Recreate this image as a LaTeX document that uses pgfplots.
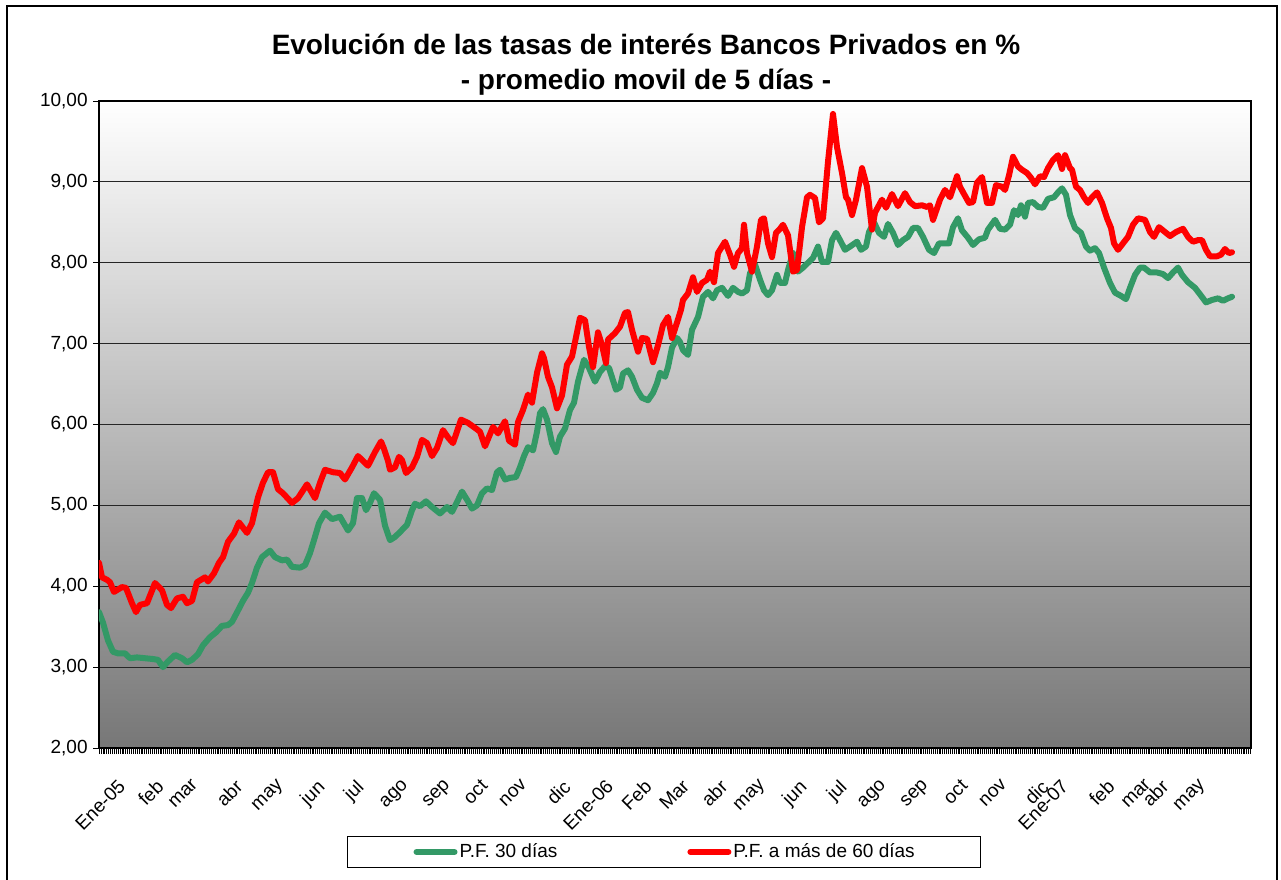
\documentclass[border=0pt]{standalone}
\usepackage{fontspec}
\setmainfont{Liberation Sans}
\usepackage{pgfplots}
\pgfplotsset{compat=1.18}
\definecolor{pfgreen}{RGB}{51,153,102}
\definecolor{pfred}{RGB}{255,0,0}
\definecolor{bgbot}{RGB}{119,119,119}
\newcommand{\tickfont}{\fontsize{9.5bp}{11bp}\selectfont}
\begin{document}
\begin{tikzpicture}
\useasboundingbox (0bp,0bp) rectangle (640.5bp,440bp);
\draw[line width=1bp] (3.5bp,-5bp) -- (3.5bp,437bp) -- (638.5bp,437bp) -- (638.5bp,-5bp);
\begin{axis}[
  at={(49.5bp,66bp)}, anchor=south west,
  scale only axis, width=576bp, height=323.5bp,
  xmin=99, xmax=1251, ymin=2, ymax=10,
  axis background/.style={top color=white, bottom color=bgbot},
  axis line style={black, line width=0.7bp},
  ymajorgrids, major grid style={black!85, line width=0.6bp},
  tick align=outside, xtick pos=bottom, ytick pos=left,
  major tick length=3bp, minor tick length=3bp,
  tick style={black, line width=0.4bp},
  major x tick style={draw=none},
  minor x tick style={black, line width=0.25bp},
  ytick={2,3,...,10},
  yticklabels={{2,00},{3,00},{4,00},{5,00},{6,00},{7,00},{8,00},{9,00},{10,00}},
  yticklabel style={font=\tickfont, inner sep=0pt, xshift=-2.5bp},
  xtick={124,162,198,241,283,323,362,408,450,487,527,569,612,650,688,726,765,805,845,886,928,967,1007,1047,1067,1113,1151,1167,1205},
  xticklabels={Ene-05,feb,mar,abr,may,jun,jul,ago,sep,oct,nov,dic,Ene-06,Feb,Mar,abr,may,jun,jul,ago,sep,oct,nov,dic,Ene-07,feb,mar,abr,may},
  minor xtick={99,100.9,...,1251},
  xticklabel style={xshift=-3.5bp, yshift=-12bp, font=\tickfont, rotate=45, anchor=north east, inner sep=0pt},
  /pgf/number format/assume math mode=true,
  legend columns=2,
  legend style={at={(axis description cs:0.2153,-0.136)}, anchor=north west,
    draw=black, line width=0.5bp, fill=white, font=\tickfont,
    inner xsep=33bp, inner ysep=3.5bp,
    nodes={inner sep=0pt},
    /tikz/every odd column/.append style={column sep=1bp},
    /tikz/every even column/.append style={column sep=65bp}},
  legend image code/.code={\draw[#1, line width=3bp, line cap=round] (0bp,0bp) -- (19bp,0bp);},
]
\addplot[pfgreen, line width=3bp, line join=round, line cap=round, mark=none] table {
x y
99 3.68
103 3.55
108 3.33
113 3.19
118 3.17
125 3.17
130 3.11
137 3.12
145 3.11
153 3.10
158 3.09
163 3.00
168 3.07
175 3.15
182 3.11
187 3.06
192 3.09
198 3.16
203 3.27
210 3.37
216 3.43
222 3.51
228 3.52
232 3.56
238 3.70
243 3.82
248 3.92
252 4.04
257 4.23
262 4.36
267 4.41
270 4.44
275 4.36
282 4.32
287 4.33
292 4.24
300 4.23
305 4.26
310 4.41
314 4.57
319 4.78
325 4.91
332 4.83
340 4.86
348 4.69
353 4.78
357 5.09
362 5.09
366 4.94
370 5.03
374 5.15
380 5.07
385 4.75
390 4.57
395 4.61
400 4.67
407 4.76
412 4.94
415 5.02
420 4.99
426 5.05
432 4.98
440 4.90
447 4.98
452 4.92
457 5.04
462 5.17
468 5.05
472 4.96
477 5.00
482 5.15
487 5.21
492 5.19
497 5.41
500 5.44
505 5.32
510 5.34
516 5.35
520 5.47
524 5.61
528 5.72
533 5.68
537 5.91
540 6.14
543 6.19
547 6.06
552 5.77
556 5.66
560 5.85
565 5.95
570 6.18
574 6.27
578 6.53
584 6.80
589 6.70
595 6.53
600 6.65
605 6.72
609 6.70
616 6.43
620 6.46
623 6.63
628 6.67
632 6.59
637 6.43
642 6.33
648 6.30
653 6.39
657 6.51
660 6.64
665 6.59
668 6.71
672 6.95
677 7.07
680 7.02
683 6.92
688 6.86
692 7.17
698 7.33
703 7.58
708 7.64
713 7.56
717 7.66
722 7.69
728 7.59
733 7.69
738 7.64
742 7.62
747 7.66
750 7.87
755 7.98
760 7.79
764 7.66
768 7.60
772 7.66
777 7.85
780 7.75
785 7.75
788 7.91
793 8.12
798 7.89
803 7.94
808 8.00
813 8.06
818 8.20
822 8.01
828 8.01
832 8.28
836 8.37
840 8.28
845 8.16
850 8.20
857 8.26
861 8.16
866 8.20
869 8.38
874 8.50
879 8.37
884 8.32
888 8.48
893 8.37
898 8.22
903 8.28
908 8.32
913 8.43
918 8.43
923 8.32
929 8.16
934 8.12
939 8.24
945 8.24
949 8.24
953 8.44
958 8.55
962 8.40
968 8.31
973 8.22
979 8.29
985 8.31
988 8.41
995 8.53
1000 8.42
1005 8.41
1010 8.47
1014 8.65
1018 8.59
1021 8.71
1025 8.57
1028 8.74
1033 8.75
1038 8.69
1043 8.68
1048 8.79
1054 8.81
1058 8.87
1062 8.92
1066 8.84
1070 8.59
1075 8.43
1081 8.37
1086 8.20
1090 8.15
1095 8.18
1099 8.12
1104 7.94
1110 7.75
1115 7.63
1121 7.59
1126 7.55
1130 7.69
1135 7.85
1140 7.94
1144 7.94
1150 7.88
1157 7.88
1163 7.86
1168 7.81
1173 7.88
1178 7.94
1182 7.85
1188 7.76
1195 7.69
1200 7.61
1206 7.51
1212 7.54
1218 7.56
1223 7.53
1228 7.56
1232 7.58
};
\addlegendentry{P.F. 30 días}
\addplot[pfred, line width=3bp, line join=round, line cap=round, mark=none] table {
x y
99 4.29
102 4.11
107 4.08
110 4.05
114 3.93
122 3.99
126 3.98
132 3.79
136 3.68
140 3.77
147 3.79
155 4.04
162 3.95
167 3.77
171 3.73
177 3.85
183 3.87
187 3.79
192 3.82
197 4.05
205 4.11
208 4.06
214 4.16
219 4.29
223 4.36
228 4.55
234 4.65
239 4.79
247 4.66
252 4.78
258 5.10
263 5.28
268 5.41
273 5.41
278 5.20
283 5.15
292 5.03
298 5.09
307 5.26
315 5.09
320 5.28
325 5.44
333 5.41
340 5.40
345 5.32
352 5.47
358 5.61
363 5.55
368 5.49
375 5.66
381 5.79
384 5.70
388 5.55
390 5.44
395 5.47
399 5.60
402 5.56
406 5.40
412 5.47
417 5.60
422 5.81
427 5.77
432 5.61
437 5.71
443 5.93
448 5.84
453 5.77
461 6.06
468 6.02
477 5.94
480 5.91
485 5.73
493 5.97
498 5.89
505 6.04
509 5.80
515 5.75
518 6.03
523 6.18
528 6.37
532 6.27
537 6.64
542 6.88
544 6.82
548 6.59
552 6.46
557 6.20
562 6.36
567 6.74
572 6.84
580 7.32
585 7.29
589 6.96
593 6.71
598 7.14
602 6.98
606 6.76
608 7.05
615 7.13
620 7.21
625 7.38
628 7.39
632 7.17
638 6.90
642 7.07
647 7.06
653 6.77
658 6.98
663 7.23
668 7.33
672 7.07
677 7.26
681 7.42
683 7.54
688 7.62
693 7.82
697 7.64
702 7.75
707 7.79
710 7.89
714 7.76
718 8.12
725 8.26
730 8.10
734 7.95
738 8.12
742 8.18
744 8.47
747 8.12
752 7.89
757 8.20
761 8.53
764 8.55
768 8.24
772 8.07
776 8.37
780 8.42
783 8.47
788 8.34
793 7.89
797 7.91
802 8.44
807 8.81
810 8.84
815 8.80
819 8.50
823 8.55
828 9.25
833 9.84
837 9.43
842 9.11
846 8.81
848 8.78
852 8.59
856 8.78
862 9.17
867 8.94
872 8.41
875 8.62
882 8.78
886 8.68
892 8.85
898 8.70
905 8.86
910 8.75
915 8.70
922 8.71
927 8.69
930 8.71
933 8.53
940 8.78
945 8.90
950 8.81
957 9.07
960 8.94
964 8.85
969 8.74
973 8.75
977 8.99
982 9.06
987 8.74
992 8.74
996 8.96
1002 8.94
1005 8.90
1009 9.08
1013 9.31
1018 9.19
1022 9.15
1027 9.11
1031 9.05
1035 8.97
1040 9.07
1044 9.06
1048 9.17
1053 9.27
1058 9.33
1062 9.16
1065 9.33
1070 9.17
1072 9.15
1076 8.94
1080 8.90
1084 8.81
1088 8.74
1092 8.81
1097 8.87
1102 8.74
1107 8.55
1111 8.43
1114 8.24
1118 8.16
1123 8.24
1128 8.32
1133 8.47
1138 8.55
1145 8.53
1150 8.38
1154 8.32
1159 8.44
1164 8.39
1170 8.33
1176 8.38
1183 8.42
1188 8.32
1193 8.26
1198 8.28
1202 8.28
1206 8.16
1210 8.08
1217 8.08
1221 8.10
1225 8.17
1229 8.12
1232 8.13
};
\addlegendentry{P.F. a más de 60 días}
\end{axis}
\node[font=\fontsize{14bp}{16bp}\selectfont\bfseries, anchor=base] at (323bp,412.5bp) {Evolución de las tasas de interés Bancos Privados en \%};
\node[font=\fontsize{14bp}{16bp}\selectfont\bfseries, anchor=base] at (323bp,395bp) {- promedio movil de 5 días -};
\end{tikzpicture}
\end{document}
